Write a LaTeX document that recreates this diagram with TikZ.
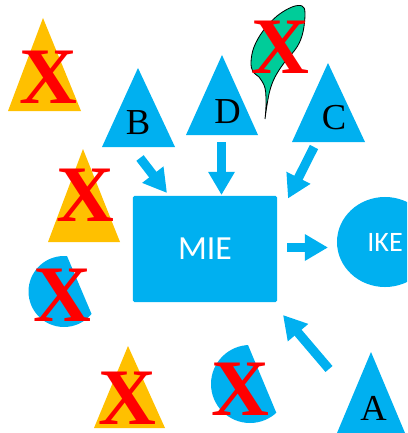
\documentclass[tikz,border=0pt]{standalone}
\usepackage{fontspec}
\setmainfont{Liberation Serif}
\newfontfamily\carlito{Carlito}
\usetikzlibrary{arrows.meta,shapes.geometric}
\definecolor{iceblue}{HTML}{00B0F0}
\definecolor{amber}{HTML}{FFC000}
\definecolor{mint}{HTML}{00CC99}
\tikzset{
  party/.style={fill=iceblue},
  dropped/.style={fill=amber},
  letter/.style={inner sep=0pt, font=\fontsize{26}{26}\selectfont},
  cross/.style={inner sep=0pt, text=red, font=\fontsize{57}{57}\selectfont\bfseries},
  box/.style={rectangle, fill=iceblue, rounded corners=1pt, minimum width=3.6cm, minimum height=2.65cm, text=white, font=\carlito\fontsize{24}{24}\selectfont},
  peer/.style={ellipse, fill=iceblue, minimum width=2.4cm, minimum height=2.25cm, inner sep=0pt, text=white, font=\carlito\fontsize{20}{20}\selectfont},
  leaf/.style={draw=black, fill=mint, line width=0.6pt},
  blockarrow/.style={draw=iceblue, line width=2.3mm, -{Triangle[length=5.8mm,width=6.3mm]}}
}

\begin{document}
\begin{tikzpicture}[x=0.025cm, y=-0.025cm]
  \clip (0,0) rectangle (407,433);
  % main nodes
  \node[box] (mie) at (205,249) {MIE};
  \node[peer] (ike) at (385,242) {IKE};

  % parties
  \fill[party] (138,68) -- (175,147) -- (102,147) -- cycle;
  \fill[party] (222,55) -- (258,135) -- (186,135) -- cycle;
  \fill[party] (328,63) -- (365,142) -- (292,142) -- cycle;
  \fill[party] (371,352) -- (405,433) -- (337,433) -- cycle;
  \node[letter] (b) at (138,122.5) {B};
  \node[letter] (d) at (227.5,112) {D};
  \node[letter] (c) at (334,117.5) {C};
  \node[letter] (a) at (373.5,408.5) {A};

  % dropped ones
  \fill[dropped] (43,18) -- (81,111) -- (8,111) -- cycle;
  \fill[dropped] (83,149) -- (120,242) -- (48,242) -- cycle;
  \fill[dropped] (128,346) -- (165,428) -- (94,428) -- cycle;
  \begin{scope}
    \clip (42,197) -- (117,374) -- (0,374) -- (0,197) -- cycle;
    \fill[party] (64,291.5) circle (35.5);
  \end{scope}
  \begin{scope}
    \clip (220,278) -- (304,479) -- (150,479) -- (150,278) -- cycle;
    \fill[party] (250,384) circle (39);
  \end{scope}
  \filldraw[leaf] plot[smooth, tension=0.6] coordinates {(265,119) (266,105) (265,88) (259,77) (253,72) (251,62) (254,47) (263,31) (277,16) (292,7) (302,6) (305,13) (303,32) (297,47) (284,63) (275,77) (270,90) (267,105) (265,119)} -- cycle;

  % arrows
  \coordinate (b out) at (140,158);  \coordinate (b in) at (167,193);
  \coordinate (d out) at (221.5,142); \coordinate (d in) at (221.5,195);
  \coordinate (c out) at (314,147);  \coordinate (c in) at (288,198.5);
  \coordinate (a out) at (329,369);  \coordinate (a in) at (283,315);
  \coordinate (mie out) at (287,247.5); \coordinate (ike in) at (328,247.5);
  \draw[blockarrow] (b out) -- (b in);
  \draw[blockarrow] (d out) -- (d in);
  \draw[blockarrow] (c out) -- (c in);
  \draw[blockarrow] (a out) -- (a in);
  \draw[blockarrow] (mie out) -- (ike in);

  % crosses
  \node[cross] (x1) at (48,77) {X};
  \node[cross] (x2) at (280,47) {X};
  \node[cross] (x3) at (85,195) {X};
  \node[cross] (x4) at (62,295) {X};
  \node[cross] (x5) at (127,398) {X};
  \node[cross] (x6) at (240,389) {X};
\end{tikzpicture}
\end{document}
